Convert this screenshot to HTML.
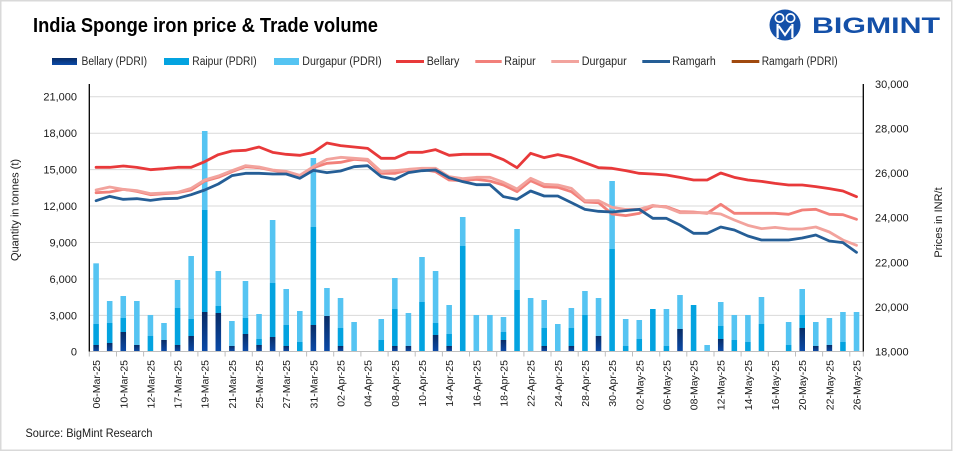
<!DOCTYPE html>
<html><head><meta charset="utf-8"><style>
html,body{margin:0;padding:0;background:#fff;}
svg{display:block;font-family:"Liberation Sans",Arial,sans-serif;}
</style></head><body>
<svg width="953" height="454" viewBox="0 0 953 454" xmlns="http://www.w3.org/2000/svg">
<defs>
<linearGradient id="nv" x1="0" y1="0" x2="0" y2="1"><stop offset="0" stop-color="#082C66"/><stop offset="1" stop-color="#0B4AA8"/></linearGradient>
</defs>
<rect x="0" y="0" width="953" height="454" fill="#fff"/>
<rect x="0.75" y="0.75" width="951" height="449.5" fill="none" stroke="#d9d9d9" stroke-width="1.5"/>

<text x="33" y="32" font-size="20" font-weight="bold" fill="#000" textLength="345" lengthAdjust="spacingAndGlyphs">India Sponge iron price &amp; Trade volume</text>

<!-- logo -->
<g>
<circle cx="785" cy="25" r="15.5" fill="#1450A8"/>
<circle cx="779.5" cy="18" r="5" fill="#fff"/><circle cx="779.5" cy="18" r="3.3" fill="#1450A8"/>
<circle cx="790.5" cy="18" r="5" fill="#fff"/><circle cx="790.5" cy="18" r="3.3" fill="#1450A8"/>
<rect x="776.5" y="24" width="2.2" height="14" fill="#fff"/>
<rect x="791.3" y="24" width="2.2" height="14" fill="#fff"/>
<polyline points="778.7,26 785,35 791.3,26" fill="none" stroke="#fff" stroke-width="2"/>
</g>
<text x="812" y="33" font-size="22" font-weight="bold" fill="#1450A8" textLength="128" lengthAdjust="spacingAndGlyphs">BIGMINT</text>

<!-- legend -->
<g font-size="11.5" fill="#262626">
<rect x="52" y="58" width="25" height="7" fill="url(#nv)"/>
<text x="81.5" y="65" textLength="65.5" lengthAdjust="spacingAndGlyphs">Bellary (PDRI)</text>
<rect x="164" y="58" width="25" height="7" fill="#03A3E0"/>
<text x="192.3" y="65" textLength="64.4" lengthAdjust="spacingAndGlyphs">Raipur (PDRI)</text>
<rect x="274" y="58" width="25" height="7" fill="#55C4F2"/>
<text x="302.3" y="65" textLength="79.4" lengthAdjust="spacingAndGlyphs">Durgapur (PDRI)</text>
<line x1="396" y1="61.5" x2="424" y2="61.5" stroke="#E8393A" stroke-width="3"/>
<text x="426.7" y="65" textLength="32.6" lengthAdjust="spacingAndGlyphs">Bellary</text>
<line x1="475.3" y1="61.5" x2="501.7" y2="61.5" stroke="#F2807A" stroke-width="3"/>
<text x="504.3" y="65" textLength="31.4" lengthAdjust="spacingAndGlyphs">Raipur</text>
<line x1="551.3" y1="61.5" x2="579" y2="61.5" stroke="#F2A39D" stroke-width="3"/>
<text x="581.7" y="65" textLength="45" lengthAdjust="spacingAndGlyphs">Durgapur</text>
<line x1="642.3" y1="61.5" x2="670" y2="61.5" stroke="#255E96" stroke-width="3"/>
<text x="672.3" y="65" textLength="43.4" lengthAdjust="spacingAndGlyphs">Ramgarh</text>
<line x1="731.7" y1="61.5" x2="759.3" y2="61.5" stroke="#A0490E" stroke-width="3"/>
<text x="761.7" y="65" textLength="76" lengthAdjust="spacingAndGlyphs">Ramgarh (PDRI)</text>
</g>

<!-- gridlines -->
<g stroke="#d9d9d9" stroke-width="1">
<line x1="89.3" y1="96.7" x2="863.3" y2="96.7"/>
<line x1="89.3" y1="133.2" x2="863.3" y2="133.2"/>
<line x1="89.3" y1="169.6" x2="863.3" y2="169.6"/>
<line x1="89.3" y1="206" x2="863.3" y2="206"/>
<line x1="89.3" y1="242.5" x2="863.3" y2="242.5"/>
<line x1="89.3" y1="278.9" x2="863.3" y2="278.9"/>
<line x1="89.3" y1="315.4" x2="863.3" y2="315.4"/>
</g>

<!-- bars -->
<g transform="translate(96.1,120) scale(13.579,0.333333)">
<g fill="url(#nv)">
<rect x="-0.205" y="675" width="0.41" height="19"/>
<rect x="0.795" y="669" width="0.41" height="25"/>
<rect x="1.795" y="636" width="0.41" height="58"/>
<rect x="2.795" y="675" width="0.41" height="19"/>
<rect x="4.795" y="660" width="0.41" height="34"/>
<rect x="5.795" y="675" width="0.41" height="19"/>
<rect x="6.795" y="648" width="0.41" height="46"/>
<rect x="7.795" y="576" width="0.41" height="118"/>
<rect x="8.795" y="579" width="0.41" height="115"/>
<rect x="9.795" y="678" width="0.41" height="16"/>
<rect x="10.795" y="642" width="0.41" height="52"/>
<rect x="11.795" y="675" width="0.41" height="19"/>
<rect x="12.795" y="651" width="0.41" height="43"/>
<rect x="13.795" y="678" width="0.41" height="16"/>
<rect x="15.795" y="615" width="0.41" height="79"/>
<rect x="16.795" y="588" width="0.41" height="106"/>
<rect x="17.795" y="678" width="0.41" height="16"/>
<rect x="21.795" y="678" width="0.41" height="16"/>
<rect x="22.795" y="678" width="0.41" height="16"/>
<rect x="24.795" y="645" width="0.41" height="49"/>
<rect x="25.795" y="678" width="0.41" height="16"/>
<rect x="29.795" y="660" width="0.41" height="34"/>
<rect x="32.795" y="678" width="0.41" height="16"/>
<rect x="34.795" y="678" width="0.41" height="16"/>
<rect x="36.795" y="648" width="0.41" height="46"/>
<rect x="42.795" y="627" width="0.41" height="67"/>
<rect x="45.795" y="657" width="0.41" height="37"/>
<rect x="51.795" y="624" width="0.41" height="70"/>
<rect x="52.795" y="678" width="0.41" height="16"/>
<rect x="53.795" y="675" width="0.41" height="19"/>
</g>
<g fill="#03A3E0">
<rect x="-0.205" y="612" width="0.41" height="63"/>
<rect x="0.795" y="609" width="0.41" height="60"/>
<rect x="1.795" y="594" width="0.41" height="42"/>
<rect x="3.795" y="648" width="0.41" height="46"/>
<rect x="5.795" y="564" width="0.41" height="111"/>
<rect x="6.795" y="597" width="0.41" height="51"/>
<rect x="7.795" y="270" width="0.41" height="306"/>
<rect x="8.795" y="558" width="0.41" height="21"/>
<rect x="10.795" y="594" width="0.41" height="48"/>
<rect x="11.795" y="657" width="0.41" height="18"/>
<rect x="12.795" y="489" width="0.41" height="162"/>
<rect x="13.795" y="615" width="0.41" height="63"/>
<rect x="14.795" y="666" width="0.41" height="28"/>
<rect x="15.795" y="321" width="0.41" height="294"/>
<rect x="17.795" y="624" width="0.41" height="54"/>
<rect x="20.795" y="660" width="0.41" height="34"/>
<rect x="21.795" y="567" width="0.41" height="111"/>
<rect x="23.795" y="546" width="0.41" height="148"/>
<rect x="24.795" y="609" width="0.41" height="36"/>
<rect x="25.795" y="642" width="0.41" height="36"/>
<rect x="26.795" y="378" width="0.41" height="316"/>
<rect x="29.795" y="636" width="0.41" height="24"/>
<rect x="30.795" y="510" width="0.41" height="184"/>
<rect x="32.795" y="624" width="0.41" height="54"/>
<rect x="34.795" y="624" width="0.41" height="54"/>
<rect x="35.795" y="585" width="0.41" height="109"/>
<rect x="37.795" y="387" width="0.41" height="307"/>
<rect x="38.795" y="678" width="0.41" height="16"/>
<rect x="39.795" y="657" width="0.41" height="37"/>
<rect x="40.795" y="567" width="0.41" height="127"/>
<rect x="41.795" y="678" width="0.41" height="16"/>
<rect x="43.795" y="555" width="0.41" height="139"/>
<rect x="45.795" y="618" width="0.41" height="39"/>
<rect x="46.795" y="660" width="0.41" height="34"/>
<rect x="47.795" y="666" width="0.41" height="28"/>
<rect x="48.795" y="612" width="0.41" height="82"/>
<rect x="50.795" y="675" width="0.41" height="19"/>
<rect x="51.795" y="585" width="0.41" height="39"/>
<rect x="54.795" y="666" width="0.41" height="28"/>
</g>
<g fill="#55C4F2">
<rect x="-0.205" y="430" width="0.41" height="182"/>
<rect x="0.795" y="543" width="0.41" height="66"/>
<rect x="1.795" y="528" width="0.41" height="66"/>
<rect x="2.795" y="543" width="0.41" height="132"/>
<rect x="3.795" y="585" width="0.41" height="63"/>
<rect x="4.795" y="609" width="0.41" height="51"/>
<rect x="5.795" y="480" width="0.41" height="84"/>
<rect x="6.795" y="408" width="0.41" height="189"/>
<rect x="7.795" y="33" width="0.41" height="237"/>
<rect x="8.795" y="453" width="0.41" height="105"/>
<rect x="9.795" y="603" width="0.41" height="75"/>
<rect x="10.795" y="483" width="0.41" height="111"/>
<rect x="11.795" y="582" width="0.41" height="75"/>
<rect x="12.795" y="300" width="0.41" height="189"/>
<rect x="13.795" y="507" width="0.41" height="108"/>
<rect x="14.795" y="573" width="0.41" height="93"/>
<rect x="15.795" y="114" width="0.41" height="207"/>
<rect x="16.795" y="504" width="0.41" height="84"/>
<rect x="17.795" y="534" width="0.41" height="90"/>
<rect x="18.795" y="606" width="0.41" height="88"/>
<rect x="20.795" y="597" width="0.41" height="63"/>
<rect x="21.795" y="474" width="0.41" height="93"/>
<rect x="22.795" y="579" width="0.41" height="99"/>
<rect x="23.795" y="411" width="0.41" height="135"/>
<rect x="24.795" y="453" width="0.41" height="156"/>
<rect x="25.795" y="555" width="0.41" height="87"/>
<rect x="26.795" y="291" width="0.41" height="87"/>
<rect x="27.795" y="585" width="0.41" height="109"/>
<rect x="28.795" y="585" width="0.41" height="109"/>
<rect x="29.795" y="591" width="0.41" height="45"/>
<rect x="30.795" y="327" width="0.41" height="183"/>
<rect x="31.795" y="534" width="0.41" height="160"/>
<rect x="32.795" y="540" width="0.41" height="84"/>
<rect x="33.795" y="612" width="0.41" height="82"/>
<rect x="34.795" y="564" width="0.41" height="60"/>
<rect x="35.795" y="513" width="0.41" height="72"/>
<rect x="36.795" y="534" width="0.41" height="114"/>
<rect x="37.795" y="183" width="0.41" height="204"/>
<rect x="38.795" y="597" width="0.41" height="81"/>
<rect x="39.795" y="600" width="0.41" height="57"/>
<rect x="41.795" y="567" width="0.41" height="111"/>
<rect x="42.795" y="525" width="0.41" height="102"/>
<rect x="44.795" y="675" width="0.41" height="19"/>
<rect x="45.795" y="546" width="0.41" height="72"/>
<rect x="46.795" y="585" width="0.41" height="75"/>
<rect x="47.795" y="585" width="0.41" height="81"/>
<rect x="48.795" y="531" width="0.41" height="81"/>
<rect x="50.795" y="606" width="0.41" height="69"/>
<rect x="51.795" y="507" width="0.41" height="78"/>
<rect x="52.795" y="606" width="0.41" height="72"/>
<rect x="53.795" y="594" width="0.41" height="81"/>
<rect x="54.795" y="576" width="0.41" height="90"/>
<rect x="55.795" y="576" width="0.41" height="118"/>
</g>

<!-- lines -->
<g fill="none" stroke-width="2.8" stroke-linejoin="round" stroke-linecap="round">
<polyline vector-effect="non-scaling-stroke" stroke="#E8393A" points="0,142 1,142 2,138 3,142 4,149 5,146 6,142 7,142 8,125 9,104 10,93 11,91 12,81 13,97 14,103 15,106 16,97 17,69 18,77 19,81 20,85 21,115 22,115 23,97 24,97 25,89 26,106 27,103 28,103 29,103 30,119 31,143 32,100 33,113 34,104 35,113 36,128 37,143 38,145 39,152 40,160 41,162 42,165 43,172 44,180 45,180 46,159 47,172 48,180 49,184 50,190 51,195 52,195 53,200 54,206 55,213 56,230"/>
<polyline vector-effect="non-scaling-stroke" stroke="#F2807A" points="0,218 1,216 2,208 3,214 4,224 5,221 6,218 7,210 8,183 9,172 10,155 11,140 12,143 13,151 14,157 15,168 16,143 17,130 18,127 19,118 20,121 21,160 22,160 23,150 24,148 25,155 26,180 27,182 28,178 29,183 30,195 31,215 32,182 33,200 34,202 35,215 36,246 37,248 38,282 39,287 40,280 41,258 42,260 43,275 44,276 45,280 46,253 47,280 48,280 49,280 50,280 51,283 52,270 53,268 54,283 55,284 56,298"/>
<polyline vector-effect="non-scaling-stroke" stroke="#F2A39D" points="0,210 1,201 2,208 3,212 4,221 5,219 6,217 7,205 8,180 9,168 10,152 11,137 12,141 13,150 14,154 15,166 16,140 17,118 18,112 19,115 20,118 21,155 22,152 23,148 24,145 25,145 26,170 27,176 28,172 29,172 30,187 31,207 32,175 33,193 34,195 35,205 36,242 37,242 38,262 39,268 40,268 41,256 42,262 43,278 44,278 45,278 46,282 47,300 48,316 49,326 50,322 51,327 52,327 53,321 54,336 55,360 56,376"/>
<polyline vector-effect="non-scaling-stroke" stroke="#255E96" points="0,242 1,229 2,238 3,236 4,241 5,236 6,235 7,224 8,210 9,192 10,167 11,160 12,160 13,162 14,162 15,175 16,151 17,158 18,153 19,140 20,137 21,170 22,178 23,158 24,152 25,150 26,173 27,185 28,194 29,194 30,230 31,238 32,213 33,228 34,228 35,248 36,268 37,274 38,276 39,272 40,268 41,295 42,295 43,315 44,340 45,340 46,321 47,330 48,348 49,360 50,360 51,360 52,354 53,345 54,363 55,368 56,397"/>
</g>
</g>

<!-- axes -->
<line x1="89.3" y1="351.5" x2="863.3" y2="351.5" stroke="#bfbfbf" stroke-width="1"/>
<g stroke="#bfbfbf" stroke-width="1">
<line x1="116.5" y1="351.5" x2="356" y2="351.5"/>
</g>
<path stroke="#bfbfbf" stroke-width="1" d="M89.3,351.5v5 M116.5,351.5v5 M143.6,351.5v5 M170.8,351.5v5 M197.9,351.5v5 M225.1,351.5v5 M252.3,351.5v5 M279.4,351.5v5 M306.6,351.5v5 M333.7,351.5v5 M360.9,351.5v5 M388.1,351.5v5 M415.2,351.5v5 M442.4,351.5v5 M469.5,351.5v5 M496.7,351.5v5 M523.9,351.5v5 M551,351.5v5 M578.2,351.5v5 M605.3,351.5v5 M632.5,351.5v5 M659.7,351.5v5 M686.8,351.5v5 M714,351.5v5 M741.1,351.5v5 M768.3,351.5v5 M795.5,351.5v5 M822.6,351.5v5 M849.8,351.5v5 M863.3,351.5v5"/>
<line x1="89.3" y1="84" x2="89.3" y2="351.5" stroke="#000" stroke-width="1.3"/>
<line x1="863.3" y1="84" x2="863.3" y2="351.5" stroke="#000" stroke-width="1.3"/>

<!-- left ticks -->
<g font-size="11" fill="#1a1a1a" text-anchor="end">
<text x="77" y="100.7">21,000</text>
<text x="77" y="137.2">18,000</text>
<text x="77" y="173.6">15,000</text>
<text x="77" y="210">12,000</text>
<text x="77" y="246.5">9,000</text>
<text x="77" y="282.9">6,000</text>
<text x="77" y="319.4">3,000</text>
<text x="77" y="355.5">0</text>
</g>
<!-- right ticks -->
<g font-size="11" fill="#1a1a1a">
<text x="875" y="88">30,000</text>
<text x="875" y="132.6">28,000</text>
<text x="875" y="177.2">26,000</text>
<text x="875" y="221.7">24,000</text>
<text x="875" y="266.3">22,000</text>
<text x="875" y="310.9">20,000</text>
<text x="875" y="355.5">18,000</text>
</g>

<text transform="translate(18.5,210) rotate(-90)" font-size="11" fill="#1a1a1a" text-anchor="middle">Quantity in tonnes (t)</text>
<text transform="translate(942,222.5) rotate(-90)" font-size="11" fill="#1a1a1a" text-anchor="middle">Prices in INR/t</text>

<!-- x labels -->
<g font-size="10.5" fill="#1a1a1a" text-anchor="end">
<text transform="translate(100.1,360) rotate(-90)">06-Mar-25</text>
<text transform="translate(127.3,360) rotate(-90)">10-Mar-25</text>
<text transform="translate(154.4,360) rotate(-90)">12-Mar-25</text>
<text transform="translate(181.6,360) rotate(-90)">17-Mar-25</text>
<text transform="translate(208.7,360) rotate(-90)">19-Mar-25</text>
<text transform="translate(235.9,360) rotate(-90)">21-Mar-25</text>
<text transform="translate(263.0,360) rotate(-90)">25-Mar-25</text>
<text transform="translate(290.2,360) rotate(-90)">27-Mar-25</text>
<text transform="translate(317.4,360) rotate(-90)">31-Mar-25</text>
<text transform="translate(344.5,360) rotate(-90)">02-Apr-25</text>
<text transform="translate(371.7,360) rotate(-90)">04-Apr-25</text>
<text transform="translate(398.8,360) rotate(-90)">08-Apr-25</text>
<text transform="translate(426.0,360) rotate(-90)">10-Apr-25</text>
<text transform="translate(453.2,360) rotate(-90)">14-Apr-25</text>
<text transform="translate(480.3,360) rotate(-90)">16-Apr-25</text>
<text transform="translate(507.5,360) rotate(-90)">18-Apr-25</text>
<text transform="translate(534.6,360) rotate(-90)">22-Apr-25</text>
<text transform="translate(561.8,360) rotate(-90)">24-Apr-25</text>
<text transform="translate(588.9,360) rotate(-90)">28-Apr-25</text>
<text transform="translate(616.1,360) rotate(-90)">30-Apr-25</text>
<text transform="translate(643.3,360) rotate(-90)">02-May-25</text>
<text transform="translate(670.4,360) rotate(-90)">06-May-25</text>
<text transform="translate(697.6,360) rotate(-90)">08-May-25</text>
<text transform="translate(724.7,360) rotate(-90)">12-May-25</text>
<text transform="translate(751.9,360) rotate(-90)">14-May-25</text>
<text transform="translate(779.0,360) rotate(-90)">16-May-25</text>
<text transform="translate(806.2,360) rotate(-90)">20-May-25</text>
<text transform="translate(833.4,360) rotate(-90)">22-May-25</text>
<text transform="translate(860.5,360) rotate(-90)">26-May-25</text>
</g>

<text x="25.5" y="437" font-size="12" fill="#1a1a1a" textLength="127" lengthAdjust="spacingAndGlyphs">Source: BigMint Research</text>
</svg>
</body></html>
